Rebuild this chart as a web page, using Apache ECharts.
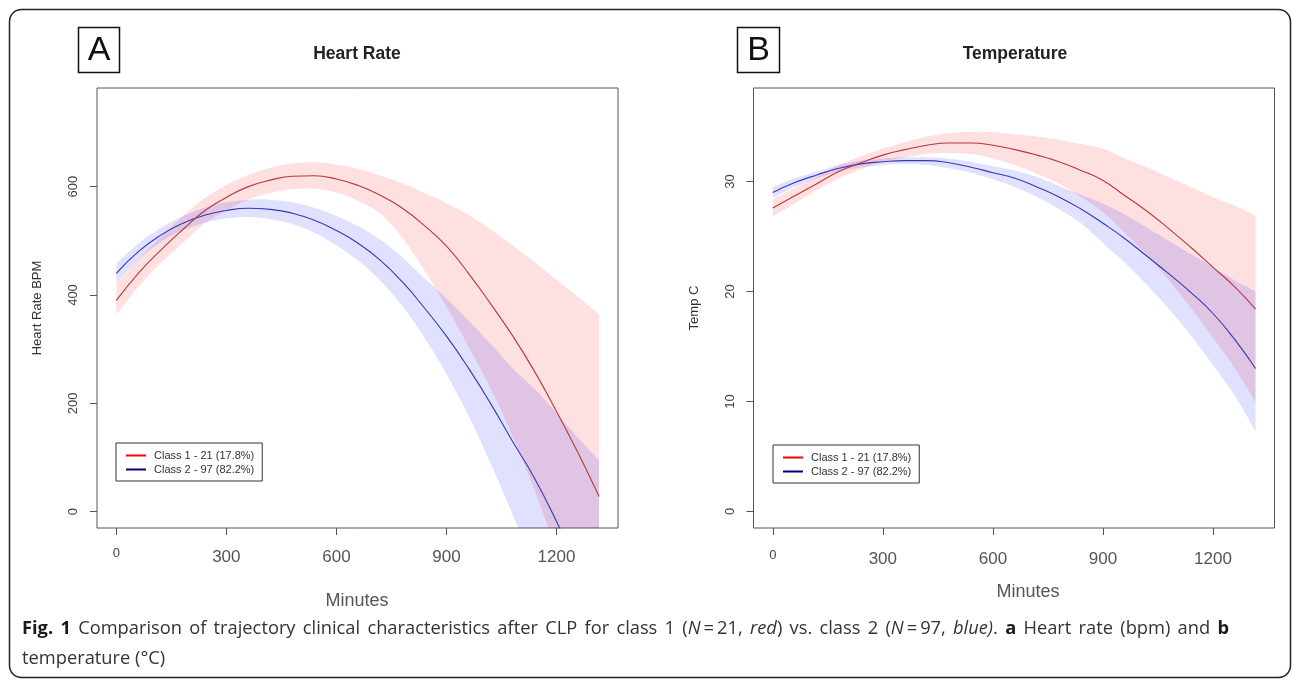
<!DOCTYPE html>
<html>
<head>
<meta charset="utf-8">
<script src="https://cdn.jsdelivr.net/npm/echarts@6/dist/echarts.min.js"></script>
<style>html,body{margin:0;padding:0;background:#fff}#c{width:1292px;height:679px}</style>
</head>
<body>
<div id="c"></div>
<script>
// ---- data ----
const minutes = [0,60,120,180,240,300,360,420,480,540,600,660,720,780,840,900,960,1020,1080,1140,1200,1260,1316];
const xTicks = [0,300,600,900,1200];
const hrTicks = [0,200,400,600];
const tempTicks = [0,10,20,30];
const classNames = ['Class 1 - 21 (17.8%)', 'Class 2 - 97 (82.2%)'];

// Heart rate, class 1 (red)
const hrClass1      = [390,440,482,520,555,580,600,612,619,620,614,602,584,560,528,490,440,384,325,259,185,107,28];
const hrClass1Upper = [420,466,506,545,578,603,622,635,643,645,641,633,620,606,588,570,548,521,492,461,428,396,364];
const hrClass1Lower = [363,415,458,495,532,556,576,588,595,596,589,573,550,505,445,378,305,228,140,40,-75,-200,-330];
// Heart rate, class 2 (blue)
const hrClass2      = [440,480,510,532,547,556,560,558,551,538,519,495,464,424,376,324,265,200,130,62,-18,-105,-190];
const hrClass2Upper = [458,495,523,545,561,571,576,576,571,561,546,527,502,469,431,394,353,310,265,227,182,135,95];
const hrClass2Lower = [422,465,497,519,533,541,544,540,531,515,492,463,426,379,321,254,177,90,-5,-103,-218,-345,-475];

// Temperature, class 1 (red)
const tempClass1      = [27.6,28.7,29.8,30.9,31.7,32.4,32.9,33.3,33.5,33.5,33.3,32.9,32.4,31.8,31.0,30.1,28.7,27.3,25.7,24.0,22.2,20.4,18.4];
const tempClass1Upper = [28.4,29.4,30.4,31.5,32.3,33.0,33.6,34.1,34.4,34.5,34.5,34.3,34.1,33.8,33.4,33.0,32.1,31.3,30.4,29.5,28.6,27.8,26.9];
const tempClass1Lower = [26.8,28.0,29.2,30.3,31.1,31.8,32.2,32.5,32.6,32.5,32.1,31.5,30.7,29.8,28.6,27.2,25.3,23.3,21.0,18.5,15.8,13.0,9.9];
// Temperature, class 2 (blue)
const tempClass2      = [29.0,29.9,30.6,31.2,31.6,31.8,31.9,31.9,31.7,31.3,30.8,30.3,29.5,28.6,27.5,26.2,24.8,23.2,21.6,19.9,18.0,15.6,13.0];
const tempClass2Upper = [29.5,30.3,30.9,31.5,31.9,32.1,32.2,32.2,32.1,31.8,31.4,31.0,30.4,29.6,28.8,28.0,27.0,25.8,24.6,23.4,22.2,21.0,20.0];
const tempClass2Lower = [28.5,29.5,30.3,30.9,31.3,31.5,31.6,31.5,31.2,30.8,30.2,29.5,28.6,27.5,26.2,24.4,22.6,20.6,18.4,16.0,13.3,10.5,7.3];

// caption (justified first line)
const captionLine1 = ['{b|Fig.}','{b|1}','Comparison','of','trajectory','clinical','characteristics','after','CLP','for','class','1',
  '({i|N}\u2009=\u200921,','{i|red})','vs.','class','2','({i|N}\u2009=\u200997,','{i|blue)}.','{b|a}','Heart','rate','(bpm)','and','{b|b}'];
const captionLine2 = 'temperature (°C)';

// ---- styling ----
const FONT = 'Liberation Sans, Arial, sans-serif';
const CAP_FONT = 'Open Sans';
const CAP_SIZE = 18.3;
const RED_LINE = '#b83838', BLUE_LINE = '#3838ae';
const RED_BAND = 'rgba(255,0,0,0.12)', BLUE_BAND = 'rgba(0,0,255,0.12)';

function pts(ys) { return minutes.map((m, i) => [m, ys[i]]); }

function smoothPath(p) {
  let d = '';
  for (let i = 0; i < p.length - 1; i++) {
    const p0 = p[Math.max(i - 1, 0)], p1 = p[i], p2 = p[i + 1], p3 = p[Math.min(i + 2, p.length - 1)];
    const c1 = [p1[0] + (p2[0] - p0[0]) / 6, p1[1] + (p2[1] - p0[1]) / 6];
    const c2 = [p2[0] - (p3[0] - p1[0]) / 6, p2[1] - (p3[1] - p1[1]) / 6];
    d += ' C' + c1[0] + ',' + c1[1] + ' ' + c2[0] + ',' + c2[1] + ' ' + p2[0] + ',' + p2[1];
  }
  return d;
}

function band(idx, key, up, lo, color) {
  return {
    type: 'custom', name: key, xAxisIndex: idx, yAxisIndex: idx, silent: true, clip: true,
    data: minutes.map((m, i) => [m, lo[i], up[i]]),
    encode: { x: 0, y: [1, 2] },
    renderItem: function (params, api) {
      if (params.dataIndex !== 0) return null;
      const u = minutes.map((m, i) => api.coord([m, up[i]]));
      const l = minutes.map((m, i) => api.coord([m, lo[i]])).reverse();
      const d = 'M' + u[0][0] + ',' + u[0][1] + smoothPath(u) + ' L' + l[0][0] + ',' + l[0][1] + smoothPath(l) + ' Z';
      const cs = params.coordSys;
      return { type: 'path', shape: { pathData: d }, style: { fill: color, stroke: null },
        clipPath: { type: 'rect', shape: { x: cs.x, y: cs.y, width: cs.width, height: cs.height } } };
    }
  };
}
function curve(idx, name, ys, color) {
  return { type: 'line', name: name, xAxisIndex: idx, yAxisIndex: idx, data: pts(ys), symbol: 'none',
    smooth: 0.5, silent: true, lineStyle: { color: color, width: 1.1 }, itemStyle: { color: color } };
}

const series = [
  band(0, 'hr1', hrClass1Upper, hrClass1Lower, RED_BAND),
  band(0, 'hr2', hrClass2Upper, hrClass2Lower, BLUE_BAND),
  curve(0, classNames[1], hrClass2, BLUE_LINE),
  curve(0, classNames[0], hrClass1, RED_LINE),
  band(1, 't1', tempClass1Upper, tempClass1Lower, RED_BAND),
  band(1, 't2', tempClass2Upper, tempClass2Lower, BLUE_BAND),
  curve(1, classNames[1], tempClass2, BLUE_LINE),
  curve(1, classNames[0], tempClass1, RED_LINE)
];

function xAxis(i, margin) {
  return { type: 'value', gridIndex: i, min: -52.6, max: 1367.6,
    splitLine: { show: false }, axisLine: { show: false, onZero: false },
    axisTick: { show: true, length: 7, customValues: xTicks, lineStyle: { color: '#555' } },
    axisLabel: { customValues: xTicks, margin: margin, fontSize: 17, color: '#555', fontFamily: FONT,
      formatter: v => v === 0 ? '{s|0}' : String(v),
      rich: { s: { fontSize: 13, color: '#444', fontFamily: FONT, lineHeight: 8 } } } };
}
function yAxis(i, min, max, ticks, name) {
  return { type: 'value', gridIndex: i, min: min, max: max,
    name: name, nameLocation: 'middle', nameGap: 53, nameMoveOverlap: false,
    nameTextStyle: { fontSize: 13, color: '#333', fontFamily: FONT },
    splitLine: { show: false }, axisLine: { show: false, onZero: false },
    axisTick: { show: true, length: 7, customValues: ticks, lineStyle: { color: '#555' } },
    axisLabel: { customValues: ticks, rotate: 90, margin: 17, fontSize: 13, color: '#444', fontFamily: FONT } };
}
function legend(left, top) {
  return { left: left, top: top, orient: 'vertical', icon: 'rect', itemWidth: 20, itemHeight: 2, itemGap: 3,
    padding: [7, 8, 6, 10], borderColor: '#333', borderWidth: 1, backgroundColor: '#fff', selectedMode: false,
    textStyle: { fontSize: 11, color: '#333', fontFamily: FONT, padding: [0, 0, 0, 3] },
    data: [
      { name: classNames[0], itemStyle: { color: '#ff0000' }, lineStyle: { color: '#ff0000' } },
      { name: classNames[1], itemStyle: { color: '#000080' }, lineStyle: { color: '#000080' } }
    ] };
}

function label(x, y, txt, opts) {
  return Object.assign({ type: 'text', x: x, y: y, silent: true },
    { style: Object.assign({ text: txt, fontFamily: FONT, fill: '#222', align: 'center', verticalAlign: 'middle' }, opts || {}) });
}

// justified caption line: measure words with canvas and spread them between x0 and x1
function captionElements(words, x0, x1, y) {
  const ctx = document.createElement('canvas').getContext('2d');
  const fontOf = s => (s === 'i' ? 'italic ' : '') + (s === 'b' ? 'bold ' : '') + CAP_SIZE + 'px "' + CAP_FONT + '"';
  const parsed = words.map(w => {
    const segs = []; const re = /\{(b|i)\|([^}]*)\}/g; let last = 0, m;
    while ((m = re.exec(w))) {
      if (m.index > last) segs.push([w.slice(last, m.index), 'n']);
      segs.push([m[2], m[1]]); last = re.lastIndex;
    }
    if (last < w.length) segs.push([w.slice(last), 'n']);
    segs.forEach(s => { ctx.font = fontOf(s[1]); s.push(ctx.measureText(s[0]).width); });
    return segs;
  });
  const total = parsed.reduce((a, segs) => a + segs.reduce((b, s) => b + s[2], 0), 0);
  const gap = (x1 - x0 - total) / (parsed.length - 1);
  const els = []; let x = x0;
  parsed.forEach(segs => {
    segs.forEach(s => {
      els.push({ type: 'text', x: x, y: y, silent: true, style: { text: s[0], fontFamily: CAP_FONT, fontSize: CAP_SIZE,
        fontWeight: s[1] === 'b' ? 'bold' : 'normal', fontStyle: s[1] === 'i' ? 'italic' : 'normal',
        fill: s[1] === 'b' ? '#1a1a1a' : '#333', align: 'left', verticalAlign: 'middle' } });
      x += s[2];
    });
    x += gap;
  });
  return els;
}

const option = {
  animation: false,
  backgroundColor: '#ffffff',
  grid: [
    { left: 97, top: 88, width: 521, height: 440, show: true, borderColor: '#555', borderWidth: 1, backgroundColor: 'transparent' },
    { left: 753.5, top: 88, width: 521, height: 440, show: true, borderColor: '#555', borderWidth: 1, backgroundColor: 'transparent' }
  ],
  xAxis: [xAxis(0, 21), xAxis(1, 23)],
  yAxis: [yAxis(0, -30, 782, hrTicks, 'Heart Rate BPM'), yAxis(1, -1.5, 38.5, tempTicks, 'Temp C')],
  legend: [legend(116, 443), legend(773, 445)],
  series: series,
  graphic: [
    { type: 'rect', silent: true, shape: { x: 9.5, y: 9.5, width: 1281, height: 668, r: 12 },
      style: { fill: 'none', stroke: '#222', lineWidth: 1.5 } },
    { type: 'rect', silent: true, shape: { x: 78.5, y: 27.5, width: 41, height: 45 }, style: { fill: 'none', stroke: '#111', lineWidth: 1.5 } },
    { type: 'rect', silent: true, shape: { x: 737.5, y: 27.5, width: 42, height: 45 }, style: { fill: 'none', stroke: '#111', lineWidth: 1.5 } },
    label(99, 51, 'A', { fontSize: 34, fill: '#111' }),
    label(758.5, 51, 'B', { fontSize: 34, fill: '#111' }),
    label(357, 54, 'Heart Rate', { fontSize: 17.5, fontWeight: 'bold' }),
    label(1015, 54, 'Temperature', { fontSize: 17.5, fontWeight: 'bold' }),
    label(357, 601, 'Minutes', { fontSize: 18, fill: '#555' }),
    label(1028, 592, 'Minutes', { fontSize: 18, fill: '#555' }),
    { type: 'text', x: 22, y: 659, silent: true,
      style: { text: captionLine2, fontFamily: CAP_FONT, fontSize: CAP_SIZE, fill: '#333', verticalAlign: 'middle', align: 'left' } }
  ].concat(captionElements(captionLine1, 22, 1229, 629))
};

const chart = echarts.init(document.getElementById('c'), null, { renderer: 'canvas', width: 1292, height: 679 });
chart.setOption(option);
</script>
</body>
</html>
